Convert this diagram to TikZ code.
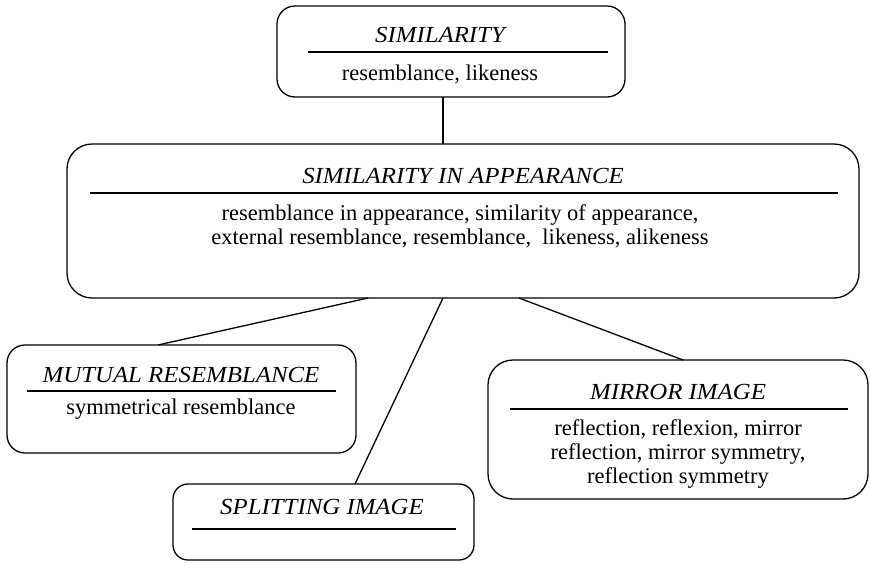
\documentclass[tikz,border=0pt]{standalone}
\usepackage{fontspec}
\setmainfont{Liberation Serif}
\newfontfamily\boxfont{Liberation Serif}
\usetikzlibrary{calc}
\begin{document}
\begin{tikzpicture}[x=1pt,y=-1pt,line width=1.3pt,
  box/.style={draw,rounded corners=#1,inner sep=0pt,outer sep=0pt},
  box/.default=20pt,
  ttl/.style={anchor=base,inner sep=0pt,xscale=1.08,font=\boxfont\fontsize{23}{25}\selectfont\itshape},
  txt/.style={anchor=base,inner sep=0pt,font=\boxfont\fontsize{22.5}{24}\selectfont},
  rule/.style={line width=1.3pt}]
\useasboundingbox (0,0) rectangle (870,563);

% frames
\node[box=18pt,minimum width=348pt,minimum height=91pt] (sim) at (451,51.5) {};
\node[box=25pt,minimum width=792pt,minimum height=154pt] (app) at (463,221) {};
\node[box=18pt,minimum width=349pt,minimum height=108pt] (mut) at (181.5,399) {};
\node[box=25pt,minimum width=380pt,minimum height=139pt] (mir) at (678,429.5) {};
\node[box=15pt,minimum width=301pt,minimum height=76pt] (spl) at (323.5,522) {};

% SIMILARITY
\node[ttl] (simT) at (440,42) {SIMILARITY};
\draw[rule] (308,52) -- (608,52);
\node[txt] (simB) at (440,80) {resemblance, likeness};

% SIMILARITY IN APPEARANCE
\node[ttl] (appT) at (463,183) {SIMILARITY IN APPEARANCE};
\draw[rule] (90,193) -- (838,193);
\node[txt] (appB1) at (460,220) {resemblance in appearance, similarity of appearance,};
\node[txt] (appB2) at (460,244) {external resemblance, resemblance,\ \ likeness, alikeness};

% MUTUAL RESEMBLANCE
\node[ttl] (mutT) at (181,382) {MUTUAL RESEMBLANCE};
\draw[rule] (27,391) -- (336,391);
\node[txt] (mutB) at (181,414) {symmetrical resemblance};

% MIRROR IMAGE
\node[ttl] (mirT) at (678,399) {MIRROR IMAGE};
\draw[rule] (510,409) -- (848,409);
\node[txt] (mirB1) at (678,435) {reflection, reflexion, mirror};
\node[txt] (mirB2) at (678,459) {reflection, mirror symmetry,};
\node[txt] (mirB3) at (678,483) {reflection symmetry};

% SPLITTING IMAGE
\node[ttl] (splT) at (322,514) {SPLITTING IMAGE};
\draw[rule] (192,529) -- (456,529);

% connectors
\draw ($(sim.south west)+(166,0)$) -- ($(app.north west)+(376,0)$);
\draw ($(app.south west)+(301,0)$) -- ($(mut.north west)+(151,0)$);
\draw ($(app.south west)+(376,0)$) -- ($(spl.north west)+(182,0)$);
\draw ($(app.south west)+(452,0)$) -- ($(mir.north west)+(195,0)$);
\end{tikzpicture}
\end{document}
